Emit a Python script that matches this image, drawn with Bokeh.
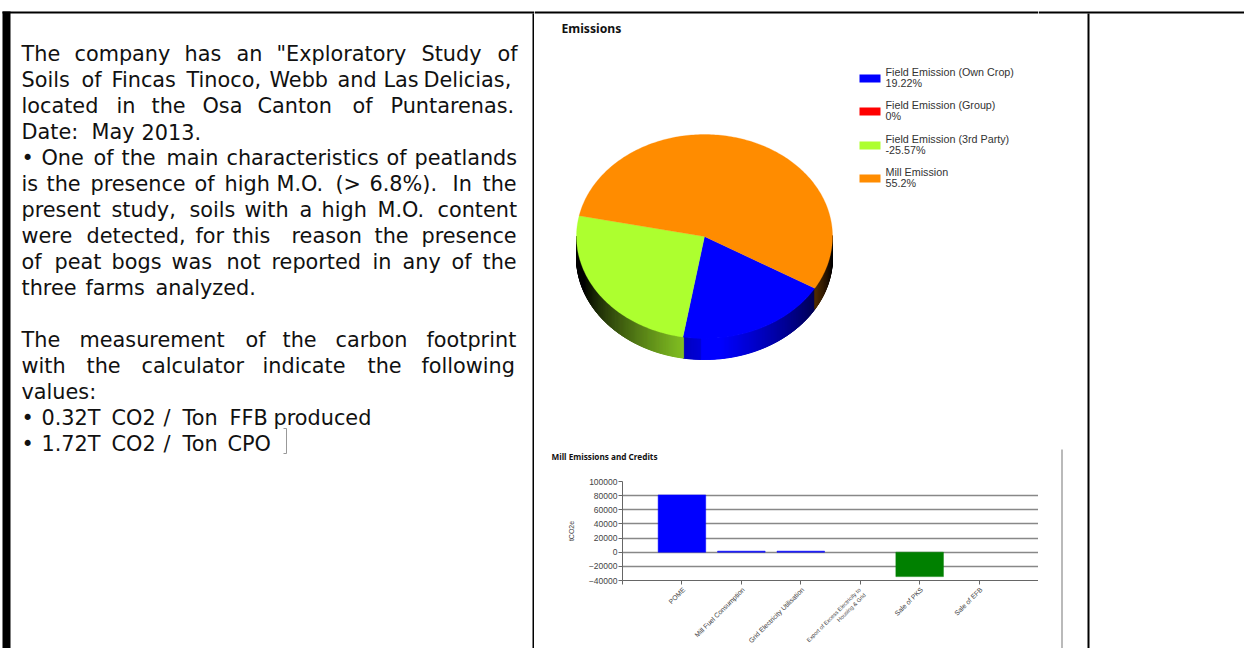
import math
from bokeh.plotting import figure
from bokeh.layouts import row, column
from bokeh.embed import file_html
from bokeh.resources import INLINE
from bokeh.core.properties import value
from bokeh.models import Range1d, FixedTicker

# ---------- data ----------
pie_title = "Emissions"
slice_names = ["Field Emission (Own Crop)", "Field Emission (Group)", "Field Emission (3rd Party)", "Mill Emission"]
slice_labels = ["19.22%", "0%", "-25.57%", "55.2%"]
slice_values = [19.22, 0.0, 25.57, 55.2]
slice_colors = ["#0000ff", "#ff0000", "#adff2f", "#ff8c00"]

bar_title = "Mill Emissions and Credits"
bar_categories = ["POME", "Mill Fuel Consumption", "Grid Electricity Utilisation",
                  "Export of Excess Electricity to\nHousing & Grid", "Sale of PKS", "Sale of EFB"]
bar_values = [81000, 1500, 1500, 0, -34500, 0]
bar_colors = ["#0000ff", "#0000ff", "#0000ff", "#0000ff", "#008000", "#008000"]
y_ticks = [-40000, -20000, 0, 20000, 40000, 60000, 80000, 100000]
y_axis_label = "tCO2e"

# each line: baseline, then word starts and words (justified text)
text_lines = [
    (61, [22, 75, 185, 237, 277, 422, 498], ["The", "company", "has", "an", "\"Exploratory", "Study", "of"]),
    (87, [22, 82, 112, 187, 270, 338, 384, 424], ["Soils", "of", "Fincas", "Tinoco,", "Webb", "and", "Las", "Delicias,"]),
    (113, [22, 117, 152, 203, 258, 353, 391], ["located", "in", "the", "Osa", "Canton", "of", "Puntarenas."]),
    (139, [22, 92, 142], ["Date:", "May", "2013."]),
    (165, [22, 42, 94, 122, 167, 227, 387, 415], ["\u2022", "One", "of", "the", "main", "characteristics", "of", "peatlands"]),
    (191, [22, 47, 91, 195, 225, 277, 336, 370, 453, 483], ["is", "the", "presence", "of", "high", "M.O.", "(>", "6.8%).", "In", "the"]),
    (217, [22, 112, 190, 245, 300, 322, 378, 438], ["present", "study,", "soils", "with", "a", "high", "M.O.", "content"]),
    (243, [22, 87, 196, 233, 292, 375, 422], ["were", "detected,", "for", "this", "reason", "the", "presence"]),
    (269, [22, 55, 112, 172, 227, 272, 373, 403, 452, 483], ["of", "peat", "bogs", "was", "not", "reported", "in", "any", "of", "the"]),
    (295, [22, 86, 156], ["three", "farms", "analyzed."]),
    (347, [22, 80, 246, 283, 336, 427], ["The", "measurement", "of", "the", "carbon", "footprint"]),
    (373, [22, 87, 142, 263, 368, 422], ["with", "the", "calculator", "indicate", "the", "following"]),
    (399, [22], ["values:"]),
    (425, [22, 42, 112, 164, 183, 230, 274], ["\u2022", "0.32T", "CO2", "/", "Ton", "FFB", "produced"]),
    (451, [22, 42, 112, 164, 183, 228], ["\u2022", "1.72T", "CO2", "/", "Ton", "CPO"]),
]
BODY_FONT = "DejaVu Sans"
BODY_SIZE = "20.8px"
LEG_FONT = "Liberation Sans"

COL_L, COL_R = 534, 1038     # middle column, the bar frame ends at its right edge
AXIS_X, AXIS_Y, TOP_Y = 622, 580, 481

def panel(x0, x1, y0, y1, xr=None):
    p = figure(width=x1 - x0, height=y1 - y0, x_range=xr or Range1d(x0, x1), y_range=Range1d(y1, y0),
               x_axis_type=None, y_axis_type=None, toolbar_location=None, output_backend="svg",
               min_border=0, min_border_left=0, min_border_right=0, min_border_top=0, min_border_bottom=0,
               outline_line_color=None, background_fill_color="white", border_fill_color="white")
    p.grid.visible = False
    return p

def rule(p, x0, x1, y0, y1, color="black"):
    p.quad(left=[x0], right=[x1], top=[y0], bottom=[y1], fill_color=color, line_color=None)

# ---------- left text panel ----------
left = panel(0, COL_L, 0, 648)
rule(left, 2, 10, 11, 648)
rule(left, 2, COL_L, 11, 13)
rule(left, 532, COL_L, 13, 648)
xs, ys, ws = [], [], []
for base, starts, words in text_lines:
    for s, w in zip(starts, words):
        xs.append(s); ys.append(base); ws.append(w)
left.text(x=xs, y=ys, text=ws, text_font=value(BODY_FONT), text_font_size=BODY_SIZE,
          text_color="#111111", text_baseline="alphabetic", text_align="left", x_offset=-1, y_offset=-8)
left.line(x=[283, 286, 286, 283], y=[428, 428, 453, 453], line_color="#999999", line_width=1)

# ---------- pie panel ----------
pie = panel(COL_L, COL_R, 0, 465)
rule(pie, COL_L, COL_R, 11, 13)
pie.text(x=[561], y=[28], text=[pie_title], text_font=value("Noto Sans"), text_font_size="12.2px",
         text_font_style="bold", text_color="#111111", text_baseline="alphabetic")
pie.text(x=[551], y=[456], text=[bar_title], text_font=value("Noto Sans"), text_font_size="8.2px",
         text_font_style="bold", text_color="#111111", text_baseline="alphabetic")

CX, CY, RX, RY, DEPTH = 704, 236, 128, 102, 21
START = -30.5
total = sum(slice_values)

def edge(deg):
    t = math.radians(deg)
    return CX + RX * math.cos(t), CY - RY * math.sin(t)

def shade(color, deg):
    d = deg + 92
    if d < 0:
        f = 0.85 * max(0.0, 1.0 + d / 70.0)
    else:
        f = min(1.0, 1.12 * max(0.0, 1.0 - d / 85.0))
    r, g, b = (int(color[i:i + 2], 16) for i in (1, 3, 5))
    return "#%02x%02x%02x" % (int(r * f), int(g * f), int(b * f))

side_x, side_y, side_c = [], [], []
a = START
spans = []
for v, c in zip(slice_values, slice_colors):
    sweep = v / total * 360.0
    spans.append((a, a - sweep, c))
    a -= sweep
for a0, a1, c in spans:
    d = a0
    while d > a1:
        e = max(a1, d - 0.5)
        for lo, hi in ((e, d), (e + 360, d + 360), (e - 360, d - 360)):
            if hi <= 0.5 and lo >= -180.5:
                x0, y0 = edge(hi + 0.3); x1, y1 = edge(lo)
                side_x.append([x0, x1, x1, x0])
                side_y.append([y0, y1, y1 + DEPTH, y0 + DEPTH])
                side_c.append(shade(c, (hi + lo) / 2))
        d = e
pie.patches(side_x, side_y, fill_color=side_c, line_color=side_c, line_width=0.8)

top_x, top_y, top_c = [], [], []
for a0, a1, c in spans:
    if a0 == a1:
        continue
    n = max(2, int(abs(a1 - a0)))
    px, py = [CX], [CY]
    for i in range(n + 1):
        x, y = edge(a0 + (a1 - a0) * i / n)
        px.append(x); py.append(y)
    top_x.append(px); top_y.append(py); top_c.append(c)
pie.patches(top_x, top_y, fill_color=top_c, line_color=top_c, line_width=0.3)

leg_rows = [78, 111, 145, 178]
for yc, name, lab, c in zip(leg_rows, slice_names, slice_labels, slice_colors):
    pie.quad(left=[859], right=[880], top=[yc - 4], bottom=[yc + 4], fill_color=c, line_color=None)
    pie.text(x=[885], y=[yc - 7], text=[name], text_font=value(LEG_FONT), text_font_size="10.75px",
             text_color="#333333", text_baseline="alphabetic")
    pie.text(x=[885], y=[yc + 4], text=[lab], text_font=value(LEG_FONT), text_font_size="10.75px",
             text_color="#333333", text_baseline="alphabetic")

# ---------- bar panel ----------
positions = list(range(1, len(bar_categories) + 1))
bars = figure(width=COL_R - COL_L, height=585 - 465, x_range=Range1d(0, 7), y_range=Range1d(-40000, 100000),
              toolbar_location=None, output_backend="svg", min_border_left=AXIS_X - COL_L, min_border_right=0,
              min_border_top=TOP_Y - 465, min_border_bottom=585 - AXIS_Y, outline_line_color=None)
bars.vbar(x=positions, top=bar_values, width=0.8, fill_color=bar_colors, line_color=bar_colors,
          line_alpha=[0.5, 0.5, 0.5, 0, 0.5, 0], line_width=1)
bars.xgrid.visible = False
bars.ygrid.ticker = FixedTicker(ticks=y_ticks)
bars.ygrid.grid_line_color = "#888888"
bars.ygrid.grid_line_width = 1.3
bars.ygrid.level = "underlay"
bars.yaxis.ticker = FixedTicker(ticks=y_ticks)
bars.xaxis.ticker = FixedTicker(ticks=[0] + positions + [7])
bars.xaxis.major_label_overrides = {i: "" for i in [0] + positions + [7]}
bars.xaxis.major_label_text_font_size = "1px"
bars.xaxis.major_label_standoff = 0
bars.yaxis.major_label_text_font = LEG_FONT
bars.yaxis.major_label_text_font_size = "8.5px"
bars.yaxis.major_label_text_color = "#444444"
bars.yaxis.axis_label = y_axis_label
bars.yaxis.axis_label_text_font = LEG_FONT
bars.yaxis.axis_label_text_font_size = "7px"
bars.yaxis.axis_label_text_font_style = "normal"
bars.yaxis.axis_label_text_color = "#444444"
bars.yaxis.axis_label_standoff = 11
for ax in (bars.xaxis, bars.yaxis):
    ax.axis_line_color = "#666666"
    ax.major_tick_line_color = "#666666"
    ax.major_tick_out = 4
    ax.major_tick_in = 0
    ax.minor_tick_line_color = None
bars.yaxis.major_label_standoff = 1
bars.yaxis.formatter.use_scientific = False

# category labels: a strip below the axis, sharing the same per-category scale
unit = (COL_R - AXIS_X) / 7
labels = panel(COL_L, COL_R, 585, 648, xr=Range1d(-(AXIS_X - COL_L) / unit, 7))
for pos, t in zip(positions, bar_categories):
    wrapped = "\n" in t
    labels.text(x=[pos], y=[591 if wrapped else 588], text=[t], angle=45, angle_units="deg",
                x_offset=2, text_align="right", text_baseline="middle",
                text_font=value(LEG_FONT), text_font_size="5.6px" if wrapped else "6.8px",
                text_color="#444444")

# ---------- right cell: table rules ----------
right = panel(COL_R, 1244, 0, 648)
rule(right, COL_R, 1244, 11, 13)
rule(right, 1087, 1089, 13, 648)
rule(right, 1061, 1062, 449, 648, "#777777")

page = row(left, column(pie, row(bars), row(labels)), right)
open("out.html", "w").write(file_html(page, INLINE))
